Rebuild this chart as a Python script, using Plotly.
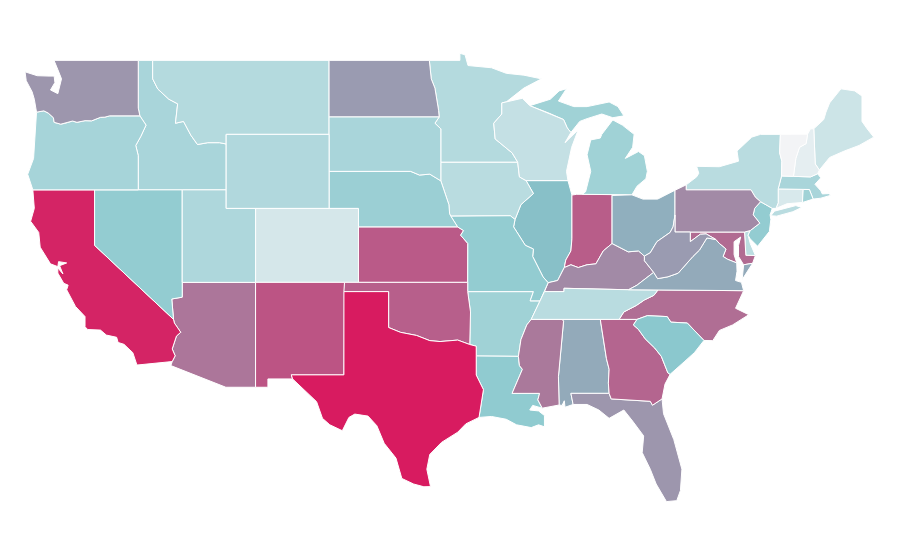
import plotly.graph_objects as go
from plotly.colors import sample_colorscale

states = ['AL','AZ','AR','CA','CO','CT','DE','FL','GA','ID','IL','IN','IA','KS','KY','LA','ME','MD','MA','MI','MN','MS','MO','MT','NE','NV','NH','NJ','NM','NY','NC','ND','OH','OK','OR','PA','RI','SC','SD','TN','TX','UT','VT','VA','WA','WV','WI','WY']
values = [50,68,30,97,11,10,20,57,74,27,42,77,21,78,61,36,14,72,27,30,23,67,35,23,32,35,5,35,80,21,71,55,48,76,28,61,30,38,27,21,100,25,0,50,57,55,17,24]

colorscale = [[0, '#f3f4f6'], [0.4, '#85c6cc'], [1, '#d81b60']]

# state boundaries, lon/lat, traced by hand (the plotly topojson needs a network)
outlines = {
    'WA': [[(-122.76,49),(-117.03,49),(-117.03,46.42),(-116.92,46),(-118.98,46),(-119.3,45.93),(-119.6,45.92),(-120.2,45.73),(-120.65,45.74),(-121.2,45.65),(-121.5,45.72),(-122,45.6),(-122.3,45.55),(-122.75,45.65),(-122.8,45.9),(-123.15,46.15),(-123.45,46.27),(-123.95,46.2),(-124.05,46.7),(-124.1,46.9),(-124.25,47.3),(-124.65,47.9),(-124.73,48.38),(-123.9,48.17),(-123.1,48.15),(-122.75,48.15),(-122.7,47.8),(-123,47.4),(-122.5,47.2),(-122.35,47.6),(-122.25,48),(-122.5,48.5),(-122.76,49)]],
    'OR': [[(-123.95,46.2),(-123.45,46.27),(-123.15,46.15),(-122.8,45.9),(-122.75,45.65),(-122.3,45.55),(-122,45.6),(-121.5,45.72),(-121.2,45.65),(-120.65,45.74),(-120.2,45.73),(-119.6,45.92),(-119.3,45.93),(-118.98,46),(-116.92,46),(-116.5,45.5),(-116.85,44.9),(-117.2,44.4),(-117.03,43.85),(-117.03,42),(-124.2,42),(-124.55,42.84),(-124.15,43.7),(-124.07,44.7),(-123.97,45.5)]],
    'CA': [[(-124.2,42),(-120,42),(-120,39),(-114.63,35),(-114.57,34.8),(-114.14,34.3),(-114.43,34.1),(-114.72,33.4),(-114.52,33.03),(-114.72,32.72),(-117.12,32.53),(-117.25,32.85),(-117.4,33.2),(-118,33.65),(-118.4,33.75),(-118.5,34.03),(-119.2,34.15),(-119.6,34.42),(-120.47,34.45),(-120.65,34.6),(-120.65,35.15),(-121.3,35.7),(-121.9,36.6),(-121.8,36.85),(-122.1,36.95),(-122.5,37.5),(-122.5,37.78),(-122.15,37.45),(-122.38,37.9),(-121.9,38.05),(-122.45,38.12),(-122.5,37.85),(-123,38),(-123.7,38.9),(-123.8,39.7),(-124.35,40.3),(-124.1,41)]],
    'NV': [[(-120,42),(-114.04,42),(-114.04,36.2),(-114.75,36.1),(-114.63,35),(-120,39)]],
    'ID': [[(-117.03,49),(-116.05,49),(-116.05,48),(-115.7,47.45),(-114.95,46.9),(-114.35,46.65),(-114.5,45.6),(-113.95,45.7),(-113.45,44.95),(-113,44.45),(-112.3,44.55),(-111.5,44.55),(-111.05,44.48),(-111.05,42),(-117.03,42),(-117.03,43.85),(-117.2,44.4),(-116.85,44.9),(-116.5,45.5),(-116.92,46),(-117.03,46.42)]],
    'MT': [[(-116.05,49),(-104.05,49),(-104.05,45),(-111.05,45),(-111.05,44.48),(-111.5,44.55),(-112.3,44.55),(-113,44.45),(-113.45,44.95),(-113.95,45.7),(-114.5,45.6),(-114.35,46.65),(-114.95,46.9),(-115.7,47.45),(-116.05,48)]],
    'WY': [[(-111.05,45),(-104.05,45),(-104.05,41),(-111.05,41)]],
    'UT': [[(-114.04,42),(-111.05,42),(-111.05,41),(-109.05,41),(-109.05,37),(-114.04,37)]],
    'CO': [[(-109.05,41),(-102.05,41),(-102.05,37),(-109.05,37)]],
    'AZ': [[(-114.04,37),(-109.05,37),(-109.05,31.33),(-111.07,31.33),(-114.81,32.5),(-114.72,32.72),(-114.52,33.03),(-114.72,33.4),(-114.43,34.1),(-114.14,34.3),(-114.57,34.8),(-114.63,35),(-114.75,36.1),(-114.04,36.2)]],
    'NM': [[(-109.05,37),(-103,37),(-103.04,32),(-106.62,32),(-106.53,31.78),(-108.21,31.78),(-108.21,31.33),(-109.05,31.33)]],
    'TX': [[(-103.04,36.5),(-100,36.5),(-100,34.56),(-99.2,34.3),(-98.1,34.13),(-97.2,33.85),(-96.5,33.8),(-95.3,33.88),(-94.48,33.64),(-94.04,33.55),(-94.04,33.02),(-94.04,31.99),(-93.55,31.2),(-93.7,30.5),(-93.85,29.7),(-94.75,29.35),(-95.3,28.9),(-96.4,28.35),(-97.2,27.7),(-97.4,26.9),(-97.15,25.96),(-97.6,25.95),(-98.3,26.1),(-99.1,26.4),(-99.5,27.5),(-100.3,28.3),(-100.8,29.25),(-101.4,29.77),(-102.3,29.88),(-102.7,29.7),(-103.15,28.98),(-104,29.3),(-104.5,29.65),(-104.9,30.55),(-106,31.4),(-106.53,31.78),(-106.62,32),(-103.04,32)]],
    'OK': [[(-103,37),(-94.62,37),(-94.62,36.5),(-94.43,35.4),(-94.48,33.64),(-95.3,33.88),(-96.5,33.8),(-97.2,33.85),(-98.1,34.13),(-99.2,34.3),(-100,34.56),(-100,36.5),(-103.04,36.5)]],
    'KS': [[(-102.05,40),(-95.31,40),(-94.9,39.8),(-95.1,39.55),(-94.61,39.1),(-94.62,37),(-102.05,37)]],
    'NE': [[(-104.05,43),(-98.5,43),(-97.9,42.8),(-97.2,42.85),(-96.45,42.49),(-96.1,41.7),(-95.9,41.2),(-95.85,40.7),(-95.77,40.58),(-95.31,40),(-102.05,40),(-102.05,41),(-104.05,41)]],
    'SD': [[(-104.05,45.94),(-96.56,45.94),(-96.85,45.6),(-96.45,45.3),(-96.45,43.5),(-96.45,42.49),(-97.2,42.85),(-97.9,42.8),(-98.5,43),(-104.05,43)]],
    'ND': [[(-104.05,49),(-97.23,49),(-97.1,48),(-96.85,47.5),(-96.6,46.3),(-96.56,45.94),(-104.05,45.94)]],
    'MN': [[(-97.23,49),(-95.15,49),(-95.15,49.38),(-94.8,49.3),(-94.6,48.72),(-93,48.6),(-92,48.3),(-90.8,48.2),(-89.6,48),(-90.8,47.5),(-92,46.75),(-92.3,46.7),(-92.3,46.1),(-92.85,45.6),(-92.75,44.75),(-91.6,44),(-91.22,43.5),(-96.45,43.5),(-96.45,45.3),(-96.85,45.6),(-96.56,45.94),(-96.6,46.3),(-96.85,47.5),(-97.1,48)]],
    'IA': [[(-96.45,43.5),(-91.22,43.5),(-91.1,42.7),(-90.65,42.5),(-90.15,41.8),(-91,41.2),(-91.4,40.4),(-91.72,40.6),(-95.77,40.58),(-95.85,40.7),(-95.9,41.2),(-96.1,41.7),(-96.45,42.49)]],
    'MO': [[(-95.77,40.58),(-91.72,40.6),(-91.4,40.4),(-91.5,40),(-90.7,39),(-90.15,38.8),(-90.2,38.4),(-89.5,37.3),(-89.15,36.98),(-89.4,36.5),(-89.7,36),(-90.37,36),(-90.15,36.5),(-94.62,36.5),(-94.62,37),(-94.61,39.1),(-95.1,39.55),(-94.9,39.8),(-95.31,40)]],
    'AR': [[(-94.62,36.5),(-90.15,36.5),(-90.37,36),(-89.7,36),(-90.3,35),(-90.6,34.7),(-91,33.9),(-91.17,33),(-94.04,33.02),(-94.04,33.55),(-94.48,33.64),(-94.43,35.4)]],
    'LA': [[(-94.04,33.02),(-91.17,33),(-91.1,32.5),(-90.9,32.3),(-91.6,31),(-89.73,31),(-89.85,30.65),(-89.55,30.2),(-90.2,30.35),(-90.4,30.1),(-89.8,30.05),(-89.4,29.8),(-89.4,29.2),(-89.05,29.1),(-89.8,29.3),(-90.3,29.15),(-91.3,29.3),(-92,29.6),(-93,29.75),(-93.85,29.7),(-93.7,30.5),(-93.55,31.2),(-94.04,31.99)]],
    'MS': [[(-90.3,35),(-88.2,35),(-88.1,34.9),(-88.45,31.9),(-88.4,30.37),(-89.55,30.2),(-89.85,30.65),(-89.73,31),(-91.6,31),(-90.9,32.3),(-91.1,32.5),(-91.17,33),(-91,33.9),(-90.6,34.7)]],
    'AL': [[(-88.2,35),(-85.6,35),(-85.18,32.87),(-85,32.3),(-85.05,31.55),(-85,31),(-87.6,31),(-87.45,30.4),(-88,30.25),(-88.05,30.6),(-88.2,30.35),(-88.4,30.37),(-88.45,31.9),(-88.1,34.9)]],
    'GA': [[(-85.6,35),(-83.1,35),(-83.35,34.7),(-83,34.45),(-82.55,33.95),(-81.9,33.45),(-81.45,33),(-81,32.1),(-80.85,32.03),(-81.2,31.5),(-81.4,30.7),(-82.05,30.36),(-82.2,30.57),(-84.86,30.7),(-85,31),(-85.05,31.55),(-85,32.3),(-85.18,32.87)]],
    'FL': [[(-87.6,31),(-85,31),(-84.86,30.7),(-82.2,30.57),(-82.05,30.36),(-81.4,30.7),(-81.3,29.9),(-80.6,28.5),(-80.05,26.9),(-80.15,25.75),(-80.4,25.2),(-81.1,25.15),(-81.8,26.1),(-82.2,26.9),(-82.75,27.8),(-82.65,28.7),(-83.4,29.5),(-84,30.1),(-85,29.65),(-85.7,30.1),(-86.5,30.4),(-87.45,30.4)]],
    'SC': [[(-83.35,34.7),(-83.1,35),(-82.4,35.2),(-81.05,35.15),(-80.8,34.85),(-79.68,34.8),(-78.55,33.86),(-79.2,33.2),(-79.9,32.7),(-80.85,32.03),(-81,32.1),(-81.45,33),(-81.9,33.45),(-82.55,33.95),(-83,34.45)]],
    'NC': [[(-84.32,35),(-83.1,35),(-82.4,35.2),(-81.05,35.15),(-80.8,34.85),(-79.68,34.8),(-78.55,33.86),(-77.95,33.85),(-77.5,34.4),(-76.6,34.7),(-75.5,35.25),(-76.4,35.6),(-75.85,36.55),(-81.68,36.59),(-81.95,36.3),(-82.6,36.05),(-83.15,35.75),(-84,35.4)]],
    'TN': [[(-90.3,35),(-88.2,35),(-85.6,35),(-84.32,35),(-84,35.4),(-83.15,35.75),(-82.6,36.05),(-81.95,36.3),(-81.68,36.59),(-83.68,36.6),(-88.07,36.68),(-88.07,36.5),(-89.4,36.5),(-89.7,36)]],
    'KY': [[(-89.4,36.5),(-88.07,36.5),(-88.07,36.68),(-83.68,36.6),(-83.1,36.85),(-81.97,37.54),(-82.6,38.17),(-82.6,38.42),(-83,38.7),(-83.7,38.65),(-84.8,39.1),(-85.4,38.7),(-85.9,38),(-86.5,37.95),(-87.1,37.8),(-87.6,37.95),(-88.05,37.8),(-88.5,37.1),(-89.15,36.98)]],
    'IL': [[(-90.65,42.5),(-87.8,42.5),(-87.53,41.72),(-87.53,39.35),(-87.6,38.7),(-87.95,38.2),(-88.05,37.8),(-88.5,37.1),(-89.15,36.98),(-89.5,37.3),(-90.2,38.4),(-90.15,38.8),(-90.7,39),(-91.5,40),(-91.4,40.4),(-91,41.2),(-90.15,41.8)]],
    'IN': [[(-87.53,41.72),(-87.2,41.76),(-84.8,41.76),(-84.8,39.1),(-85.4,38.7),(-85.9,38),(-86.5,37.95),(-87.1,37.8),(-87.6,37.95),(-88.05,37.8),(-87.95,38.2),(-87.6,38.7),(-87.53,39.35)]],
    'OH': [[(-84.8,41.7),(-83.45,41.73),(-82.7,41.5),(-81.7,41.5),(-80.52,41.98),(-80.52,40.64),(-80.65,40),(-80.85,39.7),(-81.75,39.2),(-82.2,38.6),(-82.6,38.42),(-83,38.7),(-83.7,38.65),(-84.8,39.1)]],
    'MI': [[(-86.82,41.76),(-84.8,41.76),(-83.45,41.73),(-83.1,42.2),(-82.5,42.6),(-82.4,43),(-82.6,43.85),(-83,44.07),(-83.9,43.7),(-83.4,44.3),(-83.3,45),(-84.1,45.5),(-84.75,45.78),(-85.5,45),(-85.6,44.8),(-86.25,44.7),(-86.5,43.9),(-86.25,43),(-86.6,41.9)],
           [(-90.4,46.55),(-89,46.9),(-88.4,47.35),(-87.9,47.47),(-88.45,46.8),(-87.4,46.5),(-86.5,46.5),(-85,46.75),(-84.4,46.5),(-84,46),(-84.75,45.9),(-85.5,46.1),(-86.5,45.85),(-87,45.7),(-87.6,45.1),(-87.85,45.35),(-88.1,45.8),(-89.1,46.15)]],
    'WI': [[(-92.3,46.7),(-92,46.75),(-90.9,46.95),(-90.4,46.55),(-89.1,46.15),(-88.1,45.8),(-87.85,45.35),(-87.6,45.1),(-88,44.55),(-87.1,45.25),(-87.55,44.3),(-87.9,43),(-87.8,42.5),(-90.65,42.5),(-91.1,42.7),(-91.22,43.5),(-91.6,44),(-92.75,44.75),(-92.85,45.6),(-92.3,46.1)]],
    'PA': [[(-80.52,41.98),(-80.1,42.15),(-79.76,42.27),(-79.76,42),(-75.35,42),(-75.05,41.6),(-74.7,41.36),(-75.1,41),(-75.2,40.65),(-74.75,40.2),(-75.4,39.8),(-75.79,39.72),(-80.52,39.72),(-80.52,40.64)]],
    'NY': [[(-79.76,42.27),(-79.05,42.7),(-78.9,42.9),(-79.05,43.27),(-77.5,43.25),(-76.2,43.55),(-76.3,44.1),(-75.3,44.85),(-74.7,45),(-73.35,45),(-73.4,44),(-73.25,43.55),(-73.27,42.75),(-73.5,42.05),(-73.5,41.3),(-73.65,41),(-73.9,41),(-74.7,41.36),(-75.05,41.6),(-75.35,42),(-79.76,42)],
           [(-74,40.6),(-73.75,40.85),(-72.3,41.15),(-71.9,41.05),(-72.5,40.82),(-73.6,40.58)]],
    'NJ': [[(-74.7,41.36),(-73.9,41),(-74.05,40.65),(-74,40.4),(-74.1,39.75),(-74.9,38.95),(-75.4,39.35),(-75.55,39.55),(-75.4,39.8),(-74.75,40.2),(-75.2,40.65),(-75.1,41)]],
    'DE': [[(-75.79,39.72),(-75.4,39.8),(-75.55,39.55),(-75.4,39.1),(-75.05,38.45),(-75.7,38.46)]],
    'MD': [[(-79.48,39.72),(-75.79,39.72),(-75.7,38.46),(-75.05,38.45),(-75.24,38.03),(-75.85,37.95),(-76.2,38.4),(-76.2,39),(-76.05,39.45),(-76.5,39.2),(-76.5,38.5),(-76.32,38.05),(-76.95,38.25),(-77.25,38.4),(-77.05,38.8),(-77.5,39.1),(-77.75,39.32),(-78.4,39.62),(-78.8,39.6),(-79.48,39.2)]],
    'VA': [[(-83.68,36.6),(-81.68,36.59),(-75.85,36.55),(-76,37),(-76.4,37.1),(-76.3,37.6),(-76.32,38.05),(-76.95,38.25),(-77.25,38.4),(-77.05,38.8),(-77.5,39.1),(-77.75,39.32),(-78.35,39.4),(-78.85,38.75),(-79.3,38.4),(-80.3,37.5),(-81,37.3),(-81.7,37.2),(-81.97,37.54),(-83.1,36.85)],
           [(-75.24,38.03),(-75.85,37.95),(-75.95,37.15),(-75.65,37.5)]],
    'WV': [[(-80.52,40.64),(-80.52,39.72),(-79.48,39.72),(-79.48,39.2),(-78.8,39.6),(-78.4,39.62),(-77.75,39.32),(-78.35,39.4),(-78.85,38.75),(-79.3,38.4),(-80.3,37.5),(-81,37.3),(-81.7,37.2),(-81.97,37.54),(-82.6,38.17),(-82.6,38.42),(-82.2,38.6),(-81.75,39.2),(-80.85,39.7),(-80.65,40)]],
    'VT': [[(-73.35,45),(-71.5,45.01),(-71.6,44.5),(-72.05,44.3),(-72.3,43.7),(-72.46,42.73),(-73.27,42.75),(-73.25,43.55),(-73.4,44)]],
    'NH': [[(-71.5,45.01),(-71.3,45.3),(-71.08,45.3),(-70.98,43.4),(-70.7,43.07),(-70.82,42.87),(-71.3,42.7),(-72.46,42.73),(-72.3,43.7),(-72.05,44.3),(-71.6,44.5)]],
    'ME': [[(-71.08,45.3),(-70.4,45.8),(-70.25,46.2),(-70,46.7),(-69.23,47.46),(-68.3,47.35),(-67.8,47.07),(-67.8,45.7),(-67.45,45.3),(-67,44.85),(-68,44.4),(-69,44.1),(-70,43.75),(-70.7,43.07),(-70.98,43.4)]],
    'MA': [[(-73.5,42.05),(-73.27,42.75),(-72.46,42.73),(-71.3,42.7),(-70.82,42.87),(-70.6,42.65),(-71,42.3),(-70.6,41.95),(-70.5,41.78),(-70,41.8),(-70.2,42.07),(-69.95,41.7),(-70.6,41.55),(-71.12,41.5),(-71.38,42.02),(-71.8,42.02)]],
    'RI': [[(-71.8,42.02),(-71.38,42.02),(-71.12,41.5),(-71.85,41.32)]],
    'CT': [[(-73.5,42.05),(-71.8,42.02),(-71.85,41.32),(-72.9,41.25),(-73.65,41),(-73.5,41.3)]],
}

fig = go.Figure()

for state, value in zip(states, values):
    lons, lats = [], []
    for ring in outlines[state]:
        lons += [p[0] for p in ring] + [ring[0][0], None]
        lats += [p[1] for p in ring] + [ring[0][1], None]
    fig.add_trace(go.Scatter(
        x=lons,
        y=lats,
        mode='lines',
        fill='toself',
        fillcolor=sample_colorscale(colorscale, value / 100)[0],
        line=dict(color='white', width=1),
        name=state,
        hoveron='fills',
        showlegend=False,
    ))

fig.update_layout(
    xaxis=dict(visible=False, range=[-125.89, -64.67]),
    yaxis=dict(visible=False, range=[21.56, 51.83]),
    plot_bgcolor='white',
    paper_bgcolor='white',
    width=900,
    height=560,
    margin=dict(l=0, r=0, t=0, b=0),
)

fig.write_html("out.html")
